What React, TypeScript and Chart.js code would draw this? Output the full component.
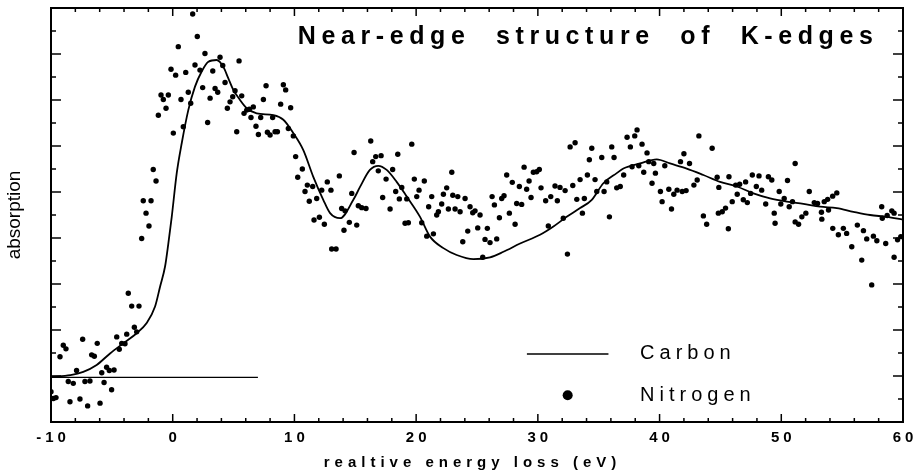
import React, { useEffect, useRef } from "react";
import { Chart, registerables } from "chart.js";

Chart.register(...registerables);

// ---- data ----
const carbonX = [-10, -8.4, -7.35, -6.25, -5.15, -4.06, -2.96, -2.14, -1.45, -1.04, -0.63, -0.36, -0.08, 0.33, 0.74, 1.28, 1.83, 2.38, 2.93, 3.61, 4.16, 4.57, 4.98, 5.53, 6.08, 6.9, 8.27, 9.09, 9.91, 10.73, 11.55, 12.37, 12.93, 13.75, 14.84, 15.39, 16.2, 16.89, 17.58, 18.4, 19.23, 20.32, 21.14, 22.24, 23.33, 24.7, 26.07, 27.17, 28.54, 30.18, 31.28, 32.37, 33.47, 34.43, 35.38, 36.48, 37.03, 38.4, 39.77, 40.86, 42.23, 43.6, 44.97, 46.34, 47.71, 49.08, 50.45, 51.82, 53.19, 54.56, 55.93, 57.3, 58.67, 60];
const carbonY = [0.985, 1.02, 1.09, 1.24, 1.49, 1.71, 1.93, 2.15, 2.51, 2.94, 3.38, 3.88, 4.46, 5.41, 6.06, 6.78, 7.29, 7.62, 7.83, 7.87, 7.72, 7.47, 7.22, 7.0, 6.82, 6.71, 6.67, 6.57, 6.28, 5.91, 5.33, 4.83, 4.54, 4.43, 4.83, 5.11, 5.48, 5.57, 5.48, 5.22, 4.9, 4.46, 4.03, 3.78, 3.63, 3.54, 3.58, 3.7, 3.88, 4.07, 4.25, 4.46, 4.65, 4.83, 5.19, 5.41, 5.51, 5.62, 5.71, 5.62, 5.51, 5.37, 5.22, 5.12, 4.97, 4.86, 4.79, 4.74, 4.68, 4.65, 4.57, 4.5, 4.46, 4.4];

const nitrogenX = [-10.0, -9.8, -9.59, -9.26, -8.99, -8.77, -8.58, -8.44, -8.17, -7.9, -7.62, -7.4, -7.21, -6.99, -6.8, -6.66, -6.44, -6.2, -5.97, -5.83, -5.64, -5.43, -5.21, -5.02, -4.82, -4.6, -4.39, -4.19, -3.92, -3.78, -3.65, -3.37, -3.15, -2.96, -2.77, -2.55, -2.42, -2.19, -1.95, -1.78, -1.6, -1.37, -1.18, -0.96, -0.77, -0.55, -0.36, -0.14, 0.05, 0.24, 0.46, 0.68, 0.87, 1.07, 1.28, 1.48, 1.64, 1.83, 2.02, 2.24, 2.46, 2.65, 2.87, 3.07, 3.29, 3.48, 3.7, 3.89, 4.11, 4.3, 4.49, 4.71, 4.93, 5.12, 5.26, 5.45, 5.67, 5.86, 6.08, 6.29, 6.43, 6.62, 6.84, 7.04, 7.23, 7.45, 7.67, 7.78, 8.0, 8.21, 8.41, 8.6, 8.87, 9.09, 9.28, 9.5, 9.69, 9.91, 10.1, 10.27, 10.65, 10.87, 11.06, 11.22, 11.5, 11.61, 11.83, 12.05, 12.24, 12.46, 12.7, 13.0, 13.06, 13.42, 13.69, 13.88, 14.07, 14.16, 14.51, 14.71, 14.9, 15.12, 15.25, 15.53, 15.88, 16.27, 16.43, 16.68, 16.89, 17.12, 17.25, 17.53, 17.86, 18.07, 18.32, 18.49, 18.62, 18.82, 19.09, 19.23, 19.36, 19.64, 19.85, 20.05, 20.24, 20.46, 20.67, 20.87, 21.03, 21.28, 21.42, 21.69, 21.83, 22.1, 22.24, 22.51, 22.65, 22.93, 23.01, 23.2, 23.42, 23.61, 23.83, 24.02, 24.24, 24.43, 24.65, 24.84, 25.06, 25.25, 25.47, 25.66, 25.85, 26.07, 26.24, 26.43, 26.62, 26.84, 27.03, 27.22, 27.44, 27.66, 27.9, 28.13, 28.26, 28.48, 28.67, 28.87, 29.08, 29.28, 29.44, 29.63, 29.9, 30.12, 30.26, 30.64, 30.86, 31.06, 31.41, 31.6, 31.82, 32.09, 32.24, 32.43, 32.65, 32.87, 33.06, 33.2, 33.47, 33.66, 33.82, 34.07, 34.23, 34.43, 34.7, 34.84, 35.25, 35.44, 35.66, 35.88, 36.07, 36.26, 36.48, 36.77, 37.05, 37.33, 37.6, 37.74, 37.96, 38.15, 38.29, 38.56, 38.7, 38.97, 39.11, 39.38, 39.52, 39.66, 40.07, 40.21, 40.43, 40.76, 40.98, 41.17, 41.44, 41.72, 41.86, 42.0, 42.18, 42.46, 42.82, 43.09, 43.23, 43.6, 43.87, 44.32, 44.73, 44.83, 44.87, 45.15, 45.42, 45.65, 45.7, 45.97, 46.25, 46.38, 46.58, 46.88, 47.07, 47.21, 47.48, 47.62, 47.95, 48.17, 48.39, 48.72, 48.94, 49.22, 49.42, 49.49, 49.83, 49.96, 50.24, 50.51, 50.65, 50.92, 51.14, 51.14, 51.42, 51.69, 52.02, 52.3, 52.71, 52.98, 53.3, 53.33, 53.53, 53.81, 53.88, 54.22, 54.23, 54.56, 54.69, 55.1, 55.37, 55.79, 56.25, 56.61, 56.75, 57.02, 57.43, 57.57, 57.85, 58.25, 58.3, 58.58, 58.7, 59.08, 59.27, 59.27, 59.55, 59.82];
const nitrogenY = [0.66, 0.51, 0.53, 1.42, 1.67, 1.59, 0.88, 0.44, 0.84, 1.12, 0.5, 1.8, 0.88, 0.35, 0.89, 1.46, 1.43, 1.71, 0.41, 1.07, 0.86, 1.19, 1.12, 0.7, 1.13, 1.85, 1.58, 1.71, 1.7, 1.91, 2.8, 2.52, 2.06, 1.96, 2.52, 3.99, 4.81, 4.54, 4.26, 4.81, 5.49, 5.24, 6.67, 7.11, 7.01, 6.82, 7.11, 7.67, 6.28, 7.54, 8.16, 7.01, 6.42, 7.6, 7.17, 6.93, 8.87, 7.76, 8.38, 7.65, 7.27, 8.01, 6.51, 7.04, 7.63, 7.25, 7.17, 7.93, 7.75, 7.38, 6.82, 6.96, 7.07, 7.2, 6.31, 7.85, 7.09, 6.71, 6.78, 6.8, 6.62, 6.85, 6.43, 6.25, 6.62, 7.01, 7.31, 6.3, 6.24, 6.62, 6.31, 6.31, 6.91, 7.33, 7.22, 6.38, 6.83, 6.22, 5.77, 5.32, 5.5, 5.01, 5.15, 4.8, 5.12, 4.39, 4.86, 4.45, 5.04, 4.3, 5.22, 5.04, 3.76, 3.76, 5.35, 4.64, 4.17, 4.59, 4.34, 4.97, 5.86, 4.28, 4.7, 4.66, 4.64, 6.11, 5.66, 5.77, 5.46, 5.79, 4.88, 5.28, 4.63, 5.49, 5.01, 5.82, 4.85, 5.1, 4.32, 4.85, 4.33, 6.04, 5.28, 4.9, 5.04, 4.33, 5.24, 4.04, 4.68, 4.9, 4.09, 4.5, 4.57, 4.74, 4.95, 5.09, 4.63, 5.43, 4.93, 4.63, 4.9, 4.57, 3.92, 4.86, 4.15, 4.68, 4.55, 4.59, 4.22, 4.5, 3.58, 3.97, 4.21, 3.9, 4.9, 4.72, 3.98, 4.44, 4.86, 4.92, 5.37, 4.54, 5.21, 4.3, 4.75, 5.12, 4.73, 5.54, 5.06, 5.24, 4.88, 5.43, 5.44, 5.49, 5.09, 4.81, 4.26, 4.9, 5.13, 4.81, 5.1, 4.43, 5.03, 3.65, 5.98, 5.14, 6.07, 4.84, 5.27, 4.54, 4.86, 5.37, 5.7, 5.95, 5.27, 5.01, 5.75, 5.01, 5.22, 4.46, 5.98, 5.75, 5.09, 5.12, 5.37, 6.19, 5.98, 5.55, 6.22, 6.35, 5.57, 6.04, 5.43, 5.85, 5.66, 5.19, 5.62, 5.41, 5.01, 4.79, 5.57, 5.06, 4.63, 4.95, 5.04, 5.66, 5.01, 5.83, 5.03, 5.62, 5.15, 5.26, 6.22, 4.48, 4.3, 5.95, 5.32, 4.54, 5.1, 4.57, 4.65, 4.2, 5.33, 4.79, 5.15, 4.95, 5.17, 4.83, 5.22, 4.77, 4.97, 5.37, 5.12, 5.35, 5.04, 4.74, 5.33, 5.26, 4.54, 4.32, 5.01, 4.74, 4.86, 5.25, 4.68, 4.79, 5.62, 4.35, 4.3, 4.46, 4.54, 5.01, 4.77, 4.75, 4.56, 4.41, 4.79, 4.84, 4.61, 4.91, 4.21, 4.98, 4.07, 4.21, 4.1, 3.81, 4.28, 3.52, 4.16, 3.98, 2.98, 4.04, 3.94, 4.68, 4.43, 3.88, 4.49, 4.59, 4.54, 3.58, 3.96, 4.03];

const baselineX = [-10, 7];
const baselineY = [0.97, 0.97];

const xTickLabels = [-10, 0, 10, 20, 30, 40, 50, 60];
const X_MIN = -10, X_MAX = 60, X_MINOR = 2, X_MAJOR = 10;
const Y_MIN = 0, Y_MAX = 9, Y_MINOR = 0.5, Y_MAJOR = 1;

const chartTitle = "Near-edge structure of K-edges";
const xTitle = "realtive energy loss (eV)";
const yTitle = "absorption";
const carbonLabel = "Carbon";
const nitrogenLabel = "Nitrogen";

function zip(xs: number[], ys: number[]) {
  return xs.map((x, i) => ({ x, y: ys[i] }));
}

const decor = {
  id: "decor",
  afterDraw(chart: any) {
    const { ctx, chartArea: a, scales } = chart;
    const xs = scales.x, ys = scales.y;
    ctx.save();
    ctx.strokeStyle = "#000";
    ctx.fillStyle = "#000";
    const seg = (x1: number, y1: number, x2: number, y2: number) => {
      ctx.beginPath(); ctx.moveTo(x1, y1); ctx.lineTo(x2, y2); ctx.stroke();
    };
    // frame
    ctx.lineWidth = 2;
    ctx.strokeRect(a.left, a.top, a.right - a.left, a.bottom - a.top);
    // x ticks (inward, top & bottom)
    ctx.lineWidth = 1.5;
    for (let v = X_MIN; v <= X_MAX + 1e-9; v += X_MINOR) {
      const px = xs.getPixelForValue(v);
      const len = Math.abs(v % X_MAJOR) < 1e-9 ? 8 : 4;
      seg(px, a.bottom, px, a.bottom - len);
      seg(px, a.top, px, a.top + len);
    }
    // y ticks (inward, left & right)
    for (let v = Y_MIN; v <= Y_MAX + 1e-9; v += Y_MINOR) {
      const py = ys.getPixelForValue(v);
      const major = Math.abs(v % Y_MAJOR) < 1e-9;
      const len = major ? 10 : 5;
      seg(a.left, py, a.left + len, py);
      seg(a.right, py, a.right - len, py);
    }
    const spaced = (text: string, x: number, y: number, font: string, ls: number, align: string, ws = 0) => {
      ctx.font = font;
      (ctx as any).letterSpacing = ls + "px";
      (ctx as any).wordSpacing = ws + "px";
      ctx.textBaseline = "middle";
      ctx.textAlign = "left";
      const w = ctx.measureText(text).width - ls;
      let sx = x;
      if (align === "center") sx = x - w / 2;
      ctx.fillText(text, sx, y);
      (ctx as any).wordSpacing = "0px";
    };
    // x tick labels
    xTickLabels.forEach((v) => {
      spaced(String(v), xs.getPixelForValue(v), a.bottom + 16, "bold 15px 'Liberation Sans', Arial, sans-serif", 4, "center");
    });
    // x title
    spaced(xTitle, (a.left + a.right) / 2 - 7, a.bottom + 41, "bold 15px 'Liberation Sans', Arial, sans-serif", 5, "center");
    // y title
    ctx.save();
    ctx.translate(15, (a.top + a.bottom) / 2);
    ctx.rotate(-Math.PI / 2);
    spaced(yTitle, 0, 0, "19px 'Liberation Sans Narrow', 'Liberation Sans', sans-serif", 0, "center");
    ctx.restore();
    // chart title inside plot
    spaced(chartTitle, xs.getPixelForValue(33.9), a.top + 29, "bold 25px 'Liberation Sans', Arial, sans-serif", 5.6, "center", 13);
    // legend
    const lf = "20px 'Liberation Sans', Arial, sans-serif";
    const lx1 = xs.getPixelForValue(29.1), lx2 = xs.getPixelForValue(35.8);
    const ly1 = ys.getPixelForValue(1.48), ly2 = ys.getPixelForValue(0.58);
    ctx.lineWidth = 1.5;
    seg(lx1, ly1, lx2, ly1);
    ctx.beginPath();
    ctx.arc((lx1 + lx2) / 2, ly2, 5, 0, Math.PI * 2);
    ctx.fill();
    const tx = xs.getPixelForValue(38.4);
    spaced(carbonLabel, tx, ly1, lf, 5, "left");
    spaced(nitrogenLabel, tx, ly2, lf, 5, "left");
    ctx.restore();
  },
};

export default function App() {
  const ref = useRef<HTMLCanvasElement>(null);
  useEffect(() => {
    if (!ref.current) return;
    const chart = new Chart(ref.current, {
      type: "scatter",
      data: {
        datasets: [
          {
            label: nitrogenLabel,
            data: zip(nitrogenX, nitrogenY),
            showLine: false,
            pointRadius: 2.7,
            pointBackgroundColor: "#000",
            pointBorderWidth: 0,
            pointHoverRadius: 2.7,
          },
          {
            label: carbonLabel,
            data: zip(carbonX, carbonY),
            showLine: true,
            borderColor: "#000",
            borderWidth: 1.8,
            pointRadius: 0,
            cubicInterpolationMode: "monotone",
          },
          {
            label: "baseline",
            data: zip(baselineX, baselineY),
            showLine: true,
            borderColor: "#000",
            borderWidth: 1.2,
            pointRadius: 0,
          },
        ],
      } as any,
      options: {
        responsive: false,
        animation: false,
        devicePixelRatio: 1,
        layout: { padding: { top: 8, right: 20, left: 0, bottom: 0 } },
        plugins: { legend: { display: false }, tooltip: { enabled: false }, title: { display: false } },
        scales: {
          x: {
            type: "linear",
            min: X_MIN,
            max: X_MAX,
            grid: { display: false },
            border: { display: false },
            ticks: { display: false },
            afterFit: (s: any) => { s.height = 51; },
          },
          y: {
            type: "linear",
            min: Y_MIN,
            max: Y_MAX,
            grid: { display: false },
            border: { display: false },
            ticks: { display: false },
            afterFit: (s: any) => { s.width = 51; },
          },
        },
      } as any,
      plugins: [decor],
    });
    return () => chart.destroy();
  }, []);
  return (
    <div style={{ position: "fixed", left: 0, top: 0, width: 923, height: 473, background: "#fff" }}>
      <canvas ref={ref} width={923} height={473} style={{ display: "block" }} />
    </div>
  );
}
